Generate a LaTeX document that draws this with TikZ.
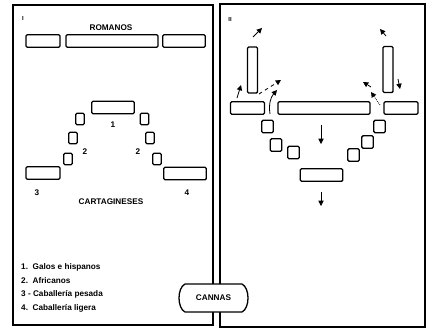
\documentclass[tikz,border=0pt]{standalone}
\usepackage{fontspec}
\setsansfont{Liberation Sans}
\usetikzlibrary{arrows.meta}

\begin{document}
\begin{tikzpicture}[
    x=0.03cm, y=-0.03cm,
    panel/.style={
        draw=black,
        line width=1.4pt,
    },
    block/.style={
        draw=black,
        line width=1.1pt,
        rounded corners=1pt,
        inner sep=0pt,
        minimum height=0.37cm,
    },
    widebox/.style={block, minimum width=2.76cm},
    midbox/.style={block, minimum width=1.28cm},
    shortbox/.style={block, minimum width=1.02cm},
    thinsq/.style={block, minimum width=0.25cm, minimum height=0.35cm},
    fatsq/.style={block, minimum width=0.34cm, minimum height=0.37cm},
    tallbox/.style={block, minimum width=0.3cm, minimum height=1.38cm},
    txt/.style={
        font=\sffamily\bfseries\fontsize{7}{8}\selectfont,
        inner sep=0pt,
    },
    legendtxt/.style={txt, anchor=west},
    move/.style={
        -{Triangle[length=4.5pt,width=4.5pt]},
        line width=0.7pt,
    },
]
\useasboundingbox (0,0) rectangle (428,330);

% the two frames
\draw[panel] (13,5) rectangle (213,325);
\draw[panel] (220,4) rectangle (425,327);

% I: starting position
\node[txt, font=\sffamily\bfseries\fontsize{5}{6}\selectfont] (numI) at (23,18) {I};
\node[txt] (romI) at (111,28) {ROMANOS};
\node[shortbox] (rom1) at (43,41) {};
\node[widebox] (rom2) at (112,41) {};
\node[midbox] (rom3) at (184,41) {};

\node[midbox] (gal) at (113,107.5) {};
\node[thinsq] (afL1) at (80,119) {};
\node[thinsq] (afL2) at (73,138) {};
\node[thinsq] (afL3) at (68,159) {};
\node[thinsq] (afR1) at (144.5,119) {};
\node[thinsq] (afR2) at (150,138) {};
\node[thinsq] (afR3) at (157,159) {};
\node[shortbox] (cabP) at (43,173) {};
\node[midbox] (cabL) at (185,173.5) {};

\node[txt] (n1) at (113,125) {1};
\node[txt] (n2L) at (85,152) {2};
\node[txt] (n2R) at (138,152) {2};
\node[txt] (n3) at (37,193) {3};
\node[txt] (n4) at (187,193) {4};
\node[txt] (carI) at (111,202) {CARTAGINESES};

\node[legendtxt] (leg1) at (21,267) {1.\ \ Galos e hispanos};
\node[legendtxt] (leg2) at (21,281) {2.\ \ Africanos};
\node[legendtxt] (leg3) at (21,294) {3 - Caballería pesada};
\node[legendtxt] (leg4) at (21,308) {4.\ \ Caballería ligera};

% II: the encirclement
\node[txt, font=\sffamily\bfseries\fontsize{5}{6}\selectfont] (numII) at (230,19) {II};
\node[tallbox] (wingL) at (252.5,70) {};
\node[tallbox] (wingR) at (388,69.5) {};
\node[shortbox] (rowL) at (247.5,108) {};
\node[widebox] (rowM) at (324,108) {};
\node[shortbox] (rowR) at (401,108) {};

\node[fatsq] (vL1) at (267.5,126.5) {};
\node[fatsq] (vL2) at (276,145) {};
\node[fatsq] (vL3) at (293.5,152.5) {};
\node[fatsq] (vR1) at (379.5,126.5) {};
\node[fatsq] (vR2) at (367.5,142) {};
\node[fatsq] (vR3) at (353.5,155) {};
\node[midbox] (ctr) at (321.5,175) {};

% movements
\coordinate (m1a) at (253,37);
\coordinate (m1b) at (262,28);
\coordinate (m2a) at (386,36);
\coordinate (m2b) at (380,29);
\coordinate (m3a) at (237,98);
\coordinate (m3b) at (241,85);
\coordinate (m4a) at (259,94);
\coordinate (m4b) at (281,80);
\coordinate (m5a) at (270,114);
\coordinate (m5b) at (277,90);
\coordinate (m6a) at (371,87);
\coordinate (m6b) at (363,82);
\coordinate (m7a) at (380,105);
\coordinate (m7b) at (371,92);
\coordinate (m8a) at (398,79);
\coordinate (m8b) at (400,89);
\coordinate (d1a) at (321,125);
\coordinate (d1b) at (321,144);
\coordinate (d2a) at (321,192);
\coordinate (d2b) at (321,206);

\draw[move] (m1a) -- (m1b);
\draw[move] (m2a) -- (m2b);
\draw[move] (m3a) -- (m3b);
\draw[move, dashed] (m4a) -- (m4b);
\draw[move] (m5a) to[bend left=25] (m5b);
\draw[move, dashed] (m6a) -- (m6b);
\draw[move, densely dotted] (m7a) -- (m7b);
\draw[move] (m8a) -- (m8b);
\draw[move] (d1a) -- (d1b);
\draw[move] (d2a) -- (d2b);

% title box over the join
\draw[panel, line width=1.1pt, fill=white]
    (185,284) -- (242,284) .. controls (250,288) and (250,308) .. (242,312)
    -- (185,312) .. controls (177,308) and (177,288) .. (185,284) -- cycle;
\node[txt] (cannas) at (213.5,298) {CANNAS};

\end{tikzpicture}
\end{document}
